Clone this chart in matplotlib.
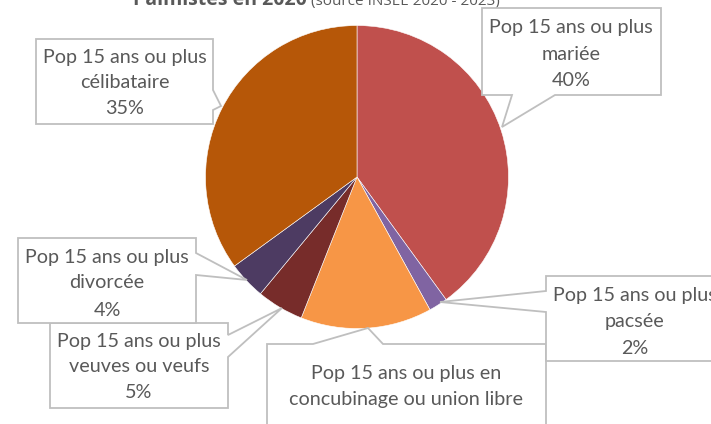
import matplotlib
matplotlib.use("Agg")
import matplotlib.pyplot as plt
from matplotlib.patches import Polygon

# ---- data ----
categories = ["Pop 15 ans ou plus\nmariée",
              "Pop 15 ans ou plus\npacsée",
              "Pop 15 ans ou plus en\nconcubinage ou union libre",
              "Pop 15 ans ou plus\nveuves ou veufs",
              "Pop 15 ans ou plus\ndivorcée",
              "Pop 15 ans ou plus\ncélibataire"]
values = [40, 2, 14, 5, 4, 35]
colors = ["#C0504D", "#8064A2", "#F79646", "#772C2A", "#4D3B62", "#B65708"]

title_bold = "Palmistes en 2020"
title_rest = " (source INSEE 2020 - 2023)"

W, H = 711, 424
fig = plt.figure(figsize=(W / 100, H / 100), dpi=100)
ax = fig.add_axes([0, 0, 1, 1])
ax.set_xlim(0, W)
ax.set_ylim(0, H)
ax.set_aspect("equal")
ax.axis("off")

def Y(y):
    return H - y

font = "Lato"
tcol = "#595959"
ecol = "#BFBFBF"

# pie
cx, cy, r = 357, 177, 151.5
ax.pie(values, colors=colors, startangle=90, counterclock=False,
       center=(cx, Y(cy)), radius=r, frame=True,
       wedgeprops=dict(edgecolor="white", linewidth=0.4))
ax.set_xlim(0, W)
ax.set_ylim(0, H)
ax.axis("off")

# callout shapes (pixel layout, y downward)
callouts = {
    0: dict(poly=[(482, 8), (661, 8), (661, 95), (555, 95), (502, 127), (512, 95), (482, 95)],
            tx=571, ty=[28, 55, 81]),
    1: dict(poly=[(546, 276), (725, 276), (725, 361), (546, 361), (546, 312), (440, 302), (546, 291)],
            tx=635, ty=[295, 322, 348]),
    2: dict(poly=[(267, 344), (313, 344), (368, 328), (383, 344), (546, 344), (546, 460), (267, 460)],
            tx=406, ty=[373, 400, 444]),
    3: dict(poly=[(50, 323), (228, 323), (228, 335), (282, 308), (228, 357), (228, 408), (50, 408)],
            tx=139, ty=[342, 367, 393]),
    4: dict(poly=[(18, 238), (196, 238), (196, 253), (247, 280), (196, 275), (196, 323), (18, 323)],
            tx=107, ty=[258, 283, 310]),
    5: dict(poly=[(36, 39), (213, 39), (213, 90), (221, 106), (213, 110), (213, 124), (36, 124)],
            tx=124.5, ty=[57, 83, 108]),
}

total = sum(values)
order = [5, 0, 2, 1, 3, 4]
for i in order:
    c = callouts[i]
    pts = [(x, Y(y)) for x, y in c["poly"]]
    ax.add_patch(Polygon(pts, closed=True, facecolor="white", edgecolor=ecol,
                         linewidth=1.3, zorder=5, clip_on=False))
    lines = categories[i].split("\n") + [f"{round(values[i] / total * 100)}%"]
    for line, ty in zip(lines, c["ty"]):
        ax.text(c["tx"], Y(ty), line, ha="center", va="center", fontsize=14.2,
                family=font, color=tcol, zorder=6)

# title (mostly cut off above the figure, as in the reference)
t1 = ax.text(133, Y(5), title_bold, ha="left", va="baseline", fontsize=14,
             fontweight="bold", family="Open Sans", color=tcol, clip_on=False)
fig.canvas.draw()
bb = t1.get_window_extent()
ax.text(bb.x1, Y(5), title_rest, ha="left", va="baseline", fontsize=11,
        family="Open Sans", color=tcol, clip_on=False, transform=None)

fig.savefig("out.png", dpi=100)
